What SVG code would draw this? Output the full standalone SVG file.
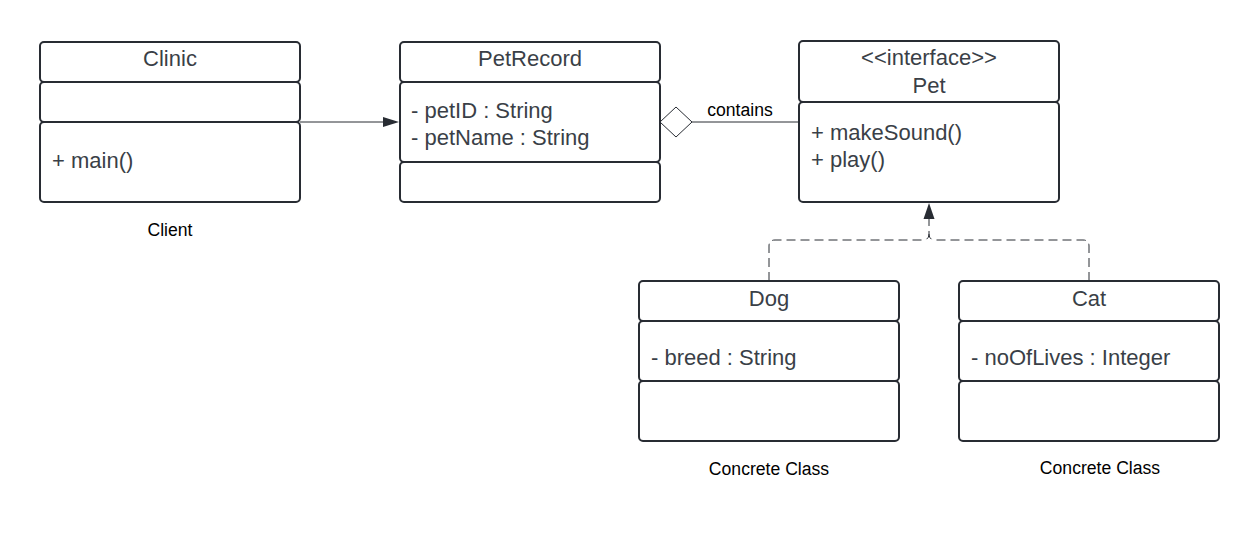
<svg xmlns="http://www.w3.org/2000/svg" width="1260" height="542" viewBox="0 0 1260 542">
<style>
.c{fill:#ffffff;stroke:#282c33;stroke-width:2}
.t{font-family:"Liberation Sans",Arial,sans-serif;font-size:22px;fill:#3a3f47}
.m{text-anchor:middle}
.l{font-family:"Liberation Sans",Arial,sans-serif;font-size:17.6px;fill:#000000;text-anchor:middle}
.ln{fill:none;stroke:#282c33;stroke-width:1}
.d{fill:none;stroke:#282c33;stroke-width:1;stroke-dasharray:9 5}
</style>
<rect width="1260" height="542" fill="#ffffff"/>
<g id="connectors">
<line class="ln" x1="300" y1="122" x2="386" y2="122"/>
<polygon points="399,122 383,117 383,127" fill="#282c33"/>
<line class="ln" x1="692" y1="122" x2="799" y2="122"/>
<polygon points="660,122 676,107 692,122 676,137" fill="#ffffff" stroke="#282c33" stroke-width="1"/>
<text class="l" x="740" y="115.5">contains</text>
<path class="d" d="M769 281 V246 Q769 240 775 240 H923 Q929 240 929 234 V219"/>
<path class="d" d="M1089 281 V246 Q1089 240 1083 240 H935 Q929 240 929 234"/>
<polygon points="929,203 923.5,219 934.5,219" fill="#282c33"/>
</g>
<g id="Clinic">
<rect class="c" x="40" y="42" width="260" height="40" rx="4"/>
<rect class="c" x="40" y="82" width="260" height="40" rx="4"/>
<rect class="c" x="40" y="122" width="260" height="80" rx="4"/>
<text class="t m" x="170" y="66">Clinic</text>
<text class="t" x="52" y="168">+ main()</text>
</g>
<g id="ClientLabel"><text class="l" x="170" y="236">Client</text></g>
<g id="PetRecord">
<rect class="c" x="400" y="42" width="260" height="40" rx="4"/>
<rect class="c" x="400" y="82" width="260" height="80" rx="4"/>
<rect class="c" x="400" y="162" width="260" height="40" rx="4"/>
<text class="t m" x="530" y="66">PetRecord</text>
<text class="t" x="411" y="118">- petID : String</text>
<text class="t" x="411" y="145">- petName : String</text>
</g>
<g id="Pet">
<rect class="c" x="799" y="41" width="260" height="61" rx="4"/>
<rect class="c" x="799" y="102" width="260" height="100" rx="4"/>
<text class="t m" x="929" y="65">&lt;&lt;interface&gt;&gt;</text>
<text class="t m" x="929" y="93">Pet</text>
<text class="t" x="811" y="140">+ makeSound()</text>
<text class="t" x="811" y="167">+ play()</text>
</g>
<g id="Dog">
<rect class="c" x="639" y="281" width="260" height="40" rx="4"/>
<rect class="c" x="639" y="321" width="260" height="60" rx="4"/>
<rect class="c" x="639" y="381" width="260" height="60" rx="4"/>
<text class="t m" x="769" y="306">Dog</text>
<text class="t" x="651" y="365">- breed : String</text>
</g>
<g id="DogLabel"><text class="l" x="769" y="475">Concrete Class</text></g>
<g id="Cat">
<rect class="c" x="959" y="281" width="260" height="40" rx="4"/>
<rect class="c" x="959" y="321" width="260" height="60" rx="4"/>
<rect class="c" x="959" y="381" width="260" height="60" rx="4"/>
<text class="t m" x="1089" y="306">Cat</text>
<text class="t" x="971" y="365">- noOfLives : Integer</text>
</g>
<g id="CatLabel"><text class="l" x="1100" y="474">Concrete Class</text></g>
</svg>
